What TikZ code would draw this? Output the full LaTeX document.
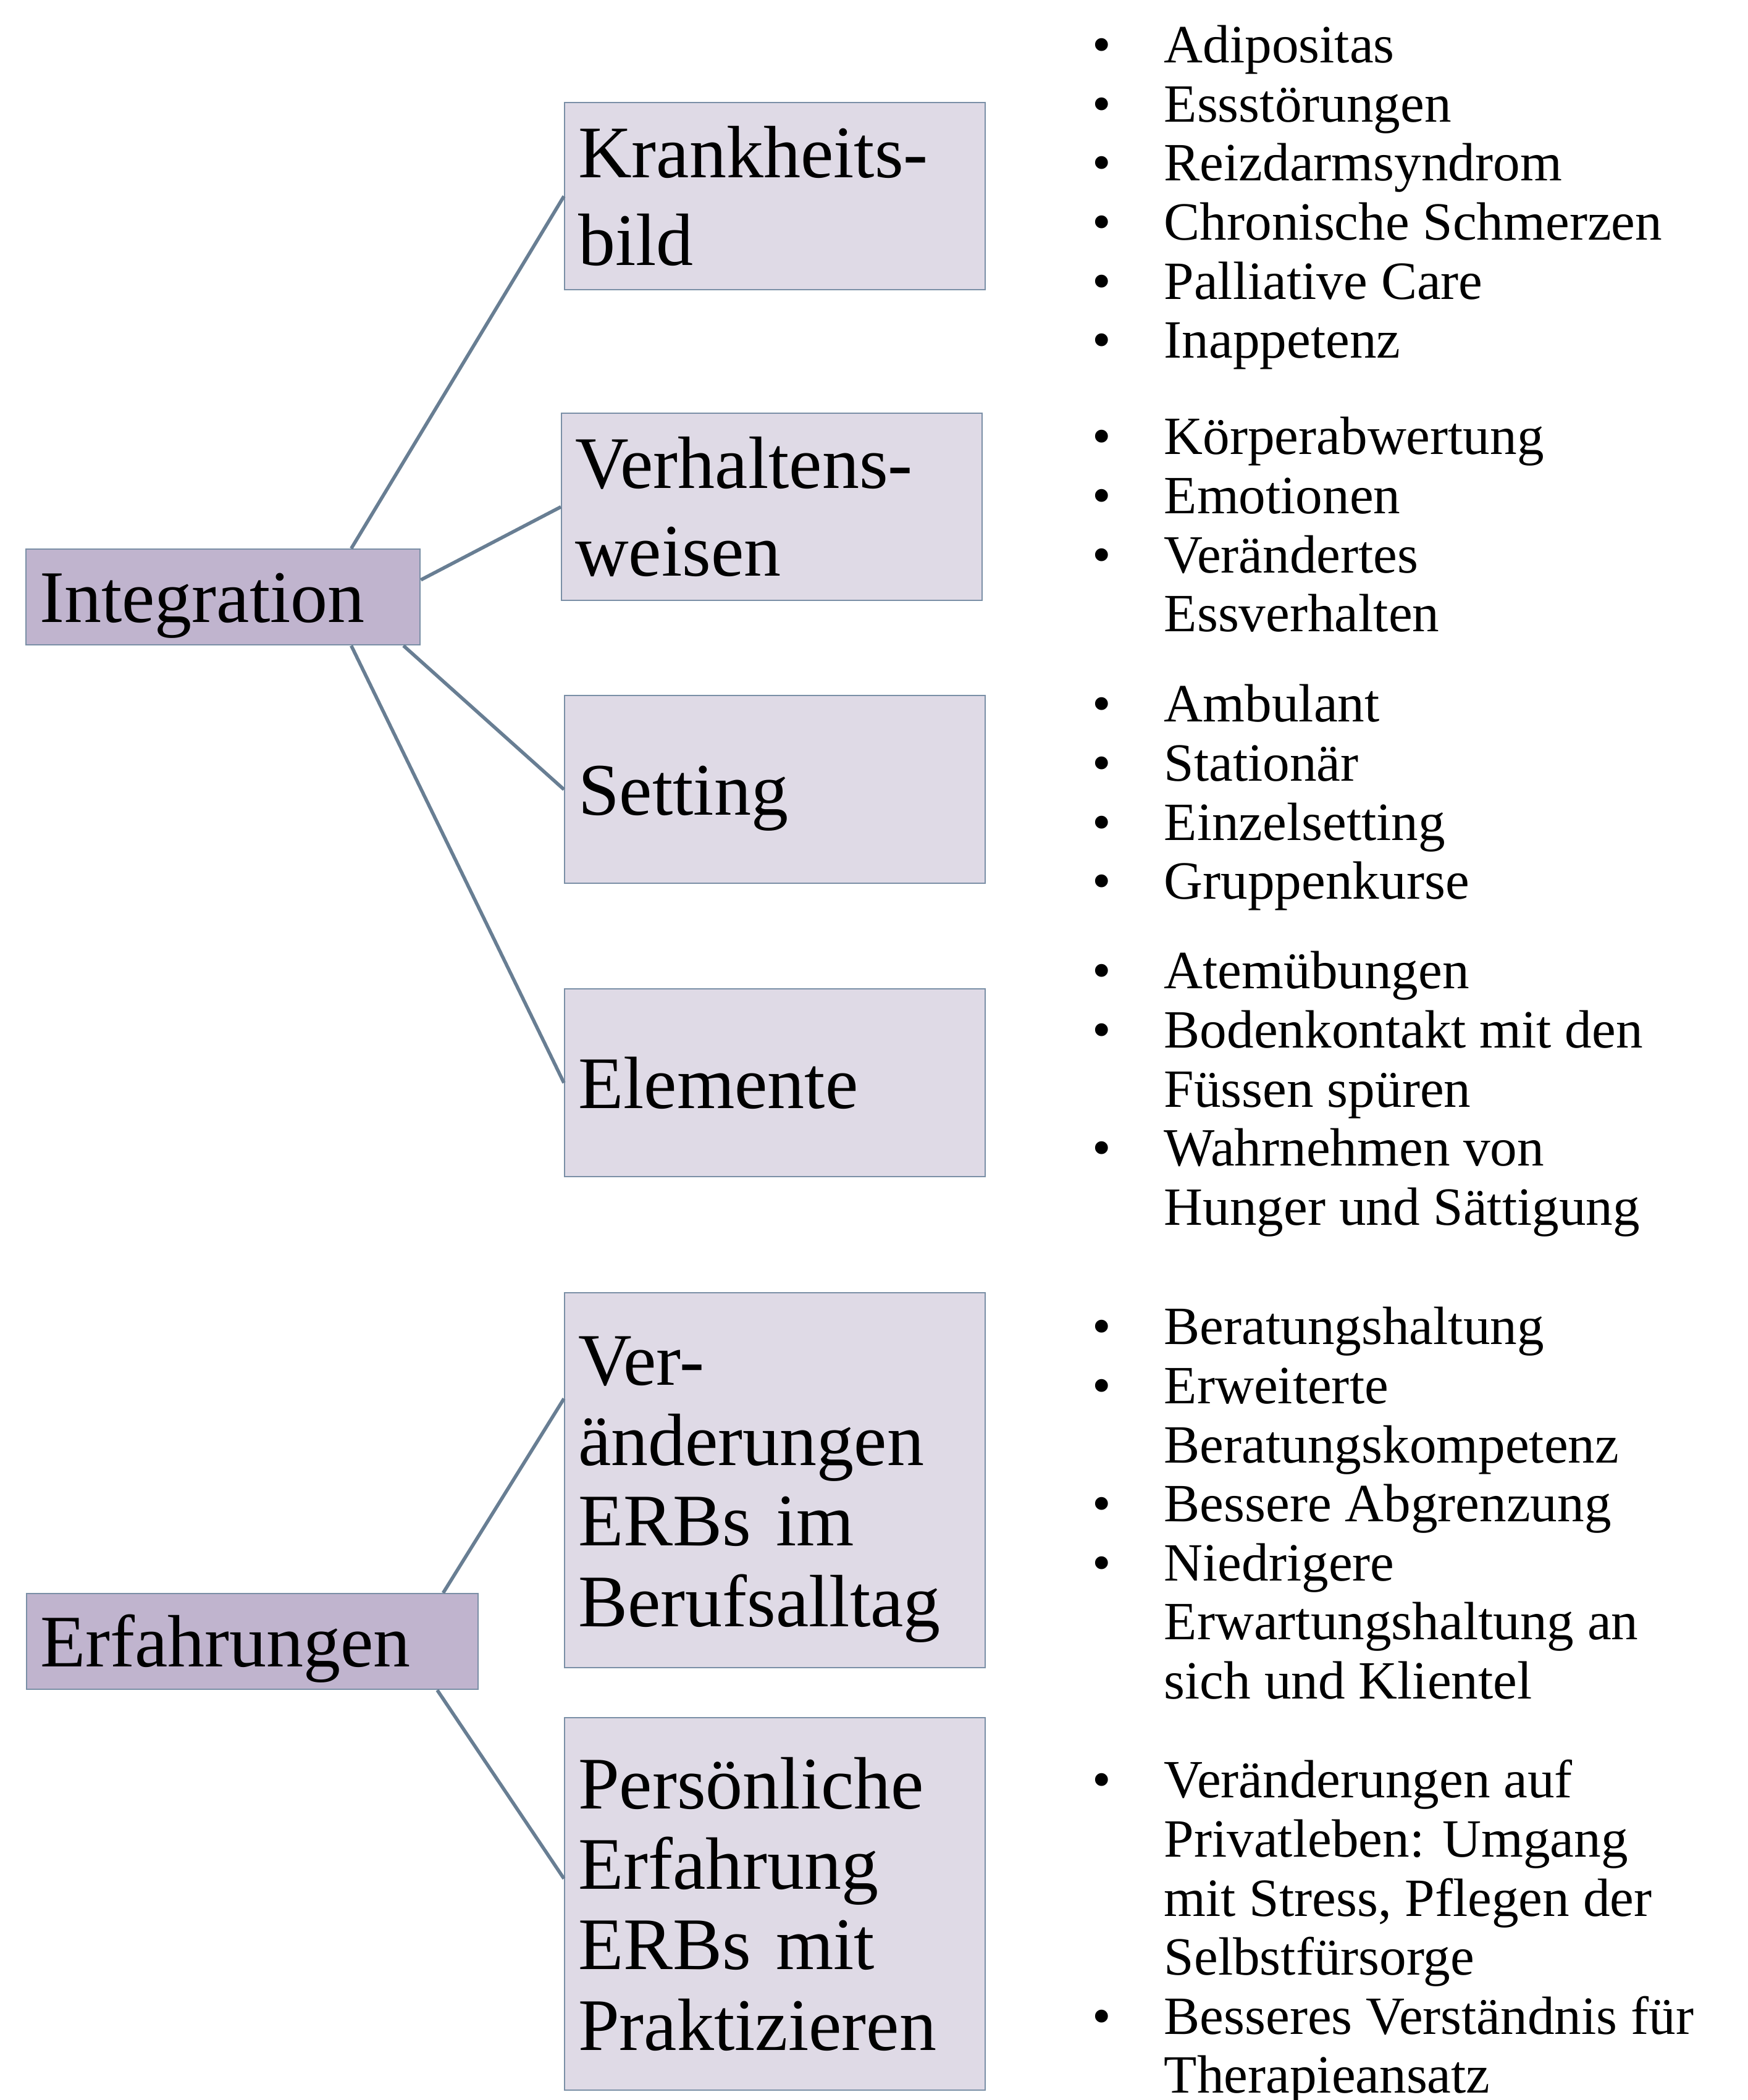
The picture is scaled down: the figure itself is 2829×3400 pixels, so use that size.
\documentclass[tikz,border=0pt]{standalone}
\usepackage{fontspec}
\setmainfont{Liberation Serif}
\usetikzlibrary{calc}

\definecolor{lineblue}{HTML}{687E93}
\definecolor{boxedge}{HTML}{7A8FA6}
\definecolor{topfill}{HTML}{C0B4CE}
\definecolor{subfill}{HTML}{DFDAE6}

% struts: box text lines and first bullet line
\newcommand{\bs}{\rule[-7pt]{0pt}{34.5pt}}
\newcommand{\ls}{\rule{0pt}{20pt}}
\newcommand{\bul}{\llap{\textbullet\hspace{21.4pt}}}

\tikzset{
  mainbox/.style={draw=boxedge, line width=0.6pt, fill=topfill, inner xsep=5.5pt, inner ysep=0pt,
    align=left, anchor=north west, minimum height=38.75pt, font=\fontsize{30pt}{32.6pt}\selectfont},
  subbox/.style={mainbox, fill=subfill, text width=159.25pt},
  bulletlist/.style={inner sep=0pt, align=left, anchor=north west, font=\fontsize{21.8pt}{23.9pt}\selectfont},
  link/.style={draw=lineblue, line width=1.4pt}
}

\begin{document}
\begin{tikzpicture}[x=0.25pt,y=0.25pt,yscale=-1,xscale=1]
\useasboundingbox (0,0) rectangle (2829,3400);

%Shape: Rectangle
\node[mainbox, text width=148.5pt] (integ) at (41,888) {\bs Integration\bs};
%Shape: Rectangle
\node[mainbox, text width=171.75pt] (erf) at (42,2579) {\bs Erfahrungen\bs};

%Shape: Rectangle
\node[subbox, minimum height=75.75pt] (krank) at (913,165) {\bs Krankheits-\\bild\bs};
%Shape: Rectangle
\node[subbox, minimum height=75.75pt] (verh) at (908,668) {\bs Verhaltens-\\weisen\bs};
%Shape: Rectangle
\node[subbox, minimum height=76pt] (sett) at (913,1125) {\bs Setting\bs};
%Shape: Rectangle
\node[subbox, minimum height=76pt] (elem) at (913,1600) {\bs Elemente\bs};
%Shape: Rectangle
\node[subbox, minimum height=151.75pt] (veraend) at (913,2092) {\bs Ver-\\änderungen\\ERBs im\\Berufsalltag\bs};
%Shape: Rectangle
\node[subbox, minimum height=150.75pt] (pers) at (913,2780) {\bs Persönliche\\Erfahrung\\ERBs mit\\Praktizieren\bs};

%Straight Lines
\draw[link] ($(integ.north west)!0.824!(integ.north east)$) -- (krank.west);
\draw[link] ($(integ.north east)!0.323!(integ.south east)$) -- (verh.west);
\draw[link] ($(integ.south west)!0.956!(integ.south east)$) -- (sett.west);
\draw[link] ($(integ.south west)!0.824!(integ.south east)$) -- (elem.west);
\draw[link] ($(erf.north west)!0.921!(erf.north east)$) -- ($(veraend.north west)!0.283!(veraend.south west)$);
\draw[link] ($(erf.south west)!0.908!(erf.south east)$) -- ($(pers.north west)!0.432!(pers.south west)$);

% Text Node
\node[bulletlist] (krank-list) at (1884,21) {\ls\bul Adipositas\\\bul Essstörungen\\\bul Reizdarmsyndrom\\\bul Chronische Schmerzen\\\bul Palliative Care\\\bul Inappetenz};
% Text Node
\node[bulletlist] (verh-list) at (1884,655) {\ls\bul Körperabwertung\\\bul Emotionen\\\bul Verändertes\\Essverhalten};
% Text Node
\node[bulletlist] (sett-list) at (1884,1088) {\ls\bul Ambulant\\\bul Stationär\\\bul Einzelsetting\\\bul Gruppenkurse};
% Text Node
\node[bulletlist] (elem-list) at (1884,1520) {\ls\bul Atemübungen\\\bul Bodenkontakt mit den\\Füssen spüren\\\bul Wahrnehmen von\\Hunger und Sättigung};
% Text Node
\node[bulletlist] (veraend-list) at (1884,2096) {\ls\bul Beratungshaltung\\\bul Erweiterte\\Beratungskompetenz\\\bul Bessere Abgrenzung\\\bul Niedrigere\\Erwartungshaltung an\\sich und Klientel};
% Text Node
\node[bulletlist] (pers-list) at (1884,2830) {\ls\bul Veränderungen auf\\Privatleben: Umgang\\mit Stress, Pflegen der\\Selbstfürsorge\\\bul Besseres Verständnis für\\Therapieansatz};

\end{tikzpicture}
\end{document}
